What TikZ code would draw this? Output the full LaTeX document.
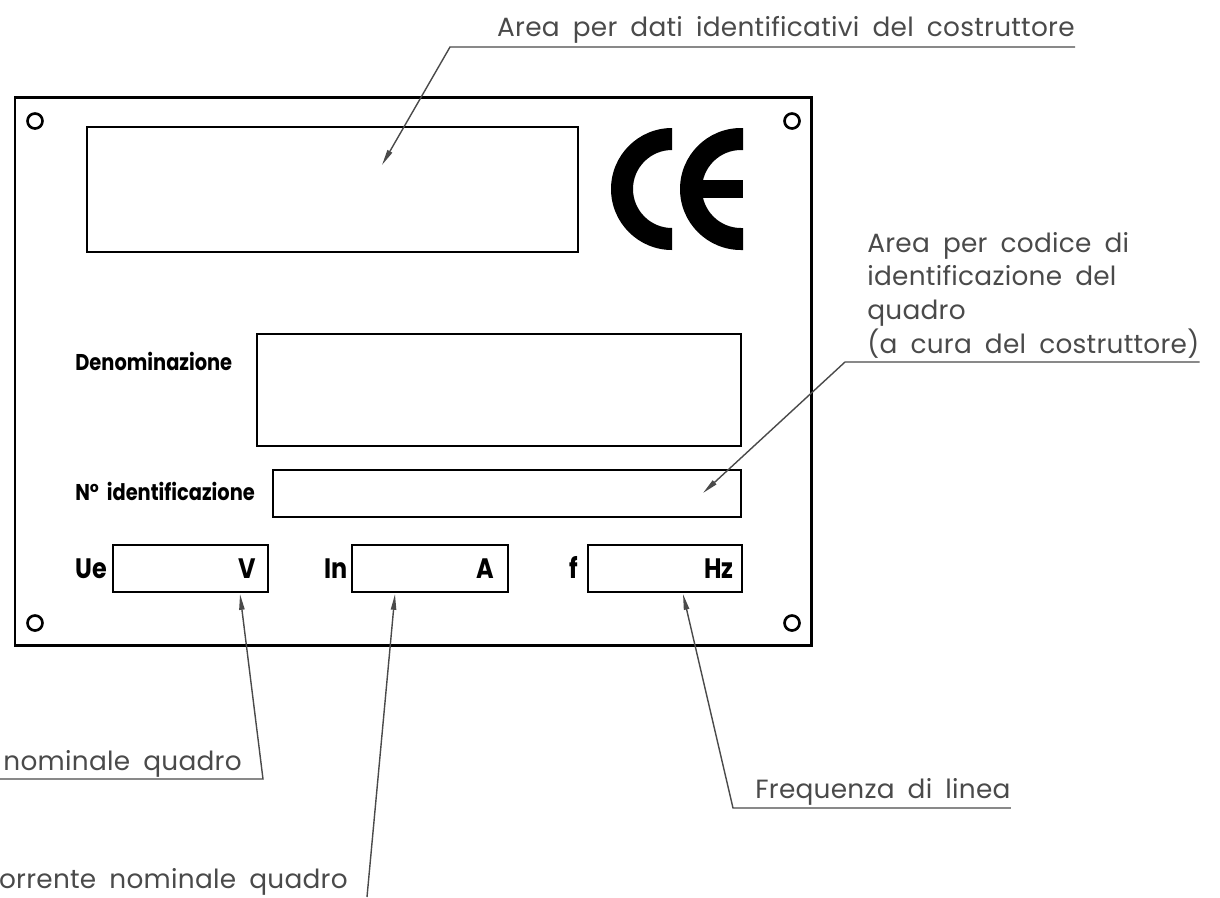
\documentclass[tikz,border=0pt]{standalone}
\usepackage{fontspec}
\usetikzlibrary{arrows.meta,positioning}
\definecolor{leadgray}{HTML}{4A4A4A}
\newfontfamily\notefont[LetterSpace=1,WordSpace=1.8]{Poppins}
\newfontfamily\platefont[FakeStretch=0.85]{Poppins}
\tikzset{
  plate/.style={line width=1.7pt},
  field/.style={line width=1.5pt},
  hole/.style={line width=1.5pt},
  leader/.style={leadgray, line width=0.8pt},
  tip/.style={-{Triangle[length=9pt,width=3pt]}},
  note/.style={text=leadgray, font=\notefont\fontsize{15}{19.3}\selectfont, inner sep=0pt},
  tag/.style={font=\platefont\bfseries\fontsize{13}{15}\selectfont, inner sep=0pt},
  unit/.style={font=\platefont\bfseries\fontsize{16}{18}\selectfont, inner sep=0pt},
}

\begin{document}
\begin{tikzpicture}[x=0.02cm, y=-0.02cm]
\useasboundingbox (0,0) rectangle (1220,897);

% plate and fixing holes
\draw[plate] (15,97) rectangle (811,645);
\foreach \hx/\hy in {35/121, 792/121, 35/623, 792/623}
  \draw[hole] (\hx,\hy) circle[radius=7.5];

% fields
\draw[field] (87,127) rectangle (578,252);
\draw[field] (257,334) rectangle (741,446);
\draw[field] (273,470) rectangle (741,517);
\draw[field] (113,545) rectangle (268,592);
\draw[field] (352,545) rectangle (508,592);
\draw[field] (588,545) rectangle (742,592);

% CE mark
\fill (672,128) arc[start angle=270, end angle=90, radius=61] -- (672,228)
  arc[start angle=90, end angle=270, radius=39] -- cycle;
\fill (743,128) -- (741,128) arc[start angle=270, end angle=90, radius=61] -- (743,250)
  -- (743,228) -- (741,228) arc[start angle=90, end angle=270, radius=39] -- (743,150) -- cycle;
\fill (702,180) rectangle (743,198);

% plate texts
\node[tag, anchor=base west] (denom) at (75,370) {Denominazione};
\node[tag, anchor=base west] (ident) at (75,500) {N°\, identificazione};
\node[unit, anchor=base west] (ue) at (75,578) {Ue};
\node[unit, anchor=base east] (volt) at (256,578) {V};
\node[unit, anchor=base east] (curr) at (348,578) {In};
\node[unit, anchor=base east] (amp) at (494,578) {A};
\node[unit, anchor=base east] (freq) at (578,578) {f};
\node[unit, anchor=base east] (hz) at (734,578) {Hz};

% leaders
\coordinate (topTip) at (382,165);
\coordinate (topKnee) at (450,47);
\node[note, anchor=base east] (topNote) at (1075,36) {Area per dati identificativi del costruttore};
\draw[leader, tip] (topNote.east |- topKnee) -- (topKnee) -- (topTip);

\coordinate (codeTip) at (703,493);
\coordinate (codeKnee) at (845,362);
\node[note, anchor=south west, align=left] (codeNote) at (867,359)
  {Area per codice di\\identificazione del\\quadro\\(a cura del costruttore)};
\draw[leader, tip] (codeNote.east |- codeKnee) -- (codeKnee) -- (codeTip);

\coordinate (ueTip) at (240,594);
\coordinate (ueKnee) at (263,779);
\coordinate (ueEnd) at (0,779);
\node[note, anchor=base east] (ueNote) at (242,770) {nominale quadro};
\draw[leader, tip] (ueEnd) -- (ueKnee) -- (ueTip);

\coordinate (inTip) at (395,594);
\coordinate (inEnd) at (367,897);
\node[note, anchor=base east] (inNote) at (348,888) {orrente nominale quadro};
\draw[leader, tip] (inEnd) -- (inTip);

\coordinate (fTip) at (683,594);
\coordinate (fKnee) at (733,808);
\node[note, anchor=base west] (fNote) at (755,798) {Frequenza di linea};
\draw[leader, tip] (fNote.east |- fKnee) -- (fKnee) -- (fTip);
\end{tikzpicture}
\end{document}
